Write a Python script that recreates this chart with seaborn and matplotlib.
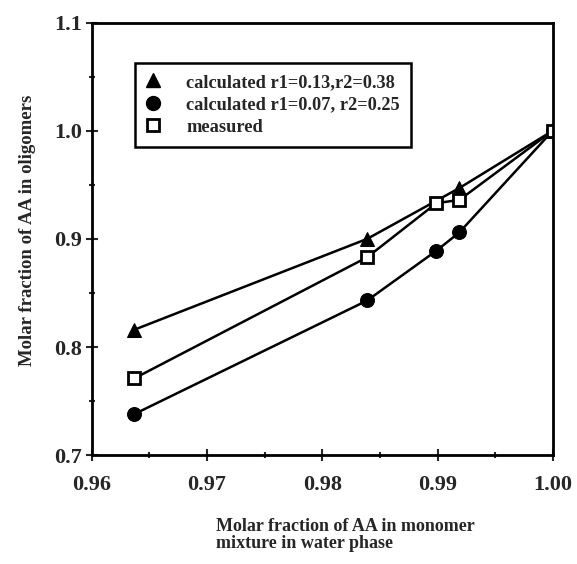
import matplotlib
matplotlib.use('Agg')
import matplotlib.pyplot as plt
from matplotlib.lines import Line2D
import pandas as pd
import seaborn as sns

# values
x_tri = [0.9637, 0.9839, 0.9919, 1.000]
y_tri = [0.816, 0.900, 0.947, 1.000]
x_circ = [0.9637, 0.9839, 0.9899, 0.9919, 1.000]
y_circ = [0.738, 0.843, 0.889, 0.906, 1.000]
x_sq = [0.9637, 0.9839, 0.9899, 0.9919, 1.000]
y_sq = [0.771, 0.883, 0.933, 0.936, 1.000]

labels = ['calculated r1=0.13,r2=0.38',
          'calculated r1=0.07, r2=0.25',
          'measured']
xticks = [0.96, 0.97, 0.98, 0.99, 1.00]
xtick_labels = ['0.96', '0.97', '0.98', '0.99', '1.00']
yticks = [0.7, 0.8, 0.9, 1.0, 1.1]
ytick_labels = ['0.7', '0.8', '0.9', '1.0', '1.1']

sns.set_style('ticks')
plt.rcParams['font.family'] = ['Liberation Serif', 'DejaVu Serif']
plt.rcParams['font.weight'] = 'bold'

fig = plt.figure(figsize=(5.77, 5.64), dpi=100)
ax = fig.add_axes([0.159, 0.193, 0.799, 0.767])

series = [
    (x_tri, y_tri, '^', dict(markersize=10, markerfacecolor='black')),
    (x_circ, y_circ, 'o', dict(markersize=10, markerfacecolor='black')),
    (x_sq, y_sq, 's', dict(markersize=9, markerfacecolor='white',
                           markeredgewidth=2)),
]
for xs, ys, mk, kw in series:
    df = pd.DataFrame({'x': xs, 'y': ys})
    sns.lineplot(data=df, x='x', y='y', ax=ax, color='black', lw=1.8,
                 marker=mk, markeredgecolor='black', **kw)

ax.set_xlim(0.96, 1.00)
ax.set_ylim(0.7, 1.1)
ax.set_xticks(xticks, xtick_labels)
ax.set_yticks(yticks, ytick_labels)
ax.set_xticks([0.965, 0.975, 0.985, 0.995], minor=True)
ax.set_yticks([0.75, 0.85, 0.95, 1.05], minor=True)
ax.tick_params(which='major', direction='inout', length=8, width=1.5,
               labelsize=16)
ax.tick_params(axis='x', which='major', pad=10)
ax.tick_params(axis='y', which='major', pad=3)
ax.tick_params(which='minor', direction='inout', length=5, width=1.5)
for sp in ax.spines.values():
    sp.set_linewidth(2)
    sp.set_color('black')

ax.set_xlabel('')
ax.set_ylabel('Molar fraction of AA in oligomers', fontsize=13.5,
              fontweight='bold')
ax.yaxis.set_label_coords(-0.12, 0.52)
fig.text(0.374, 0.022, 'Molar fraction of AA in monomer\nmixture in water phase',
         ha='left', va='bottom', fontsize=13, fontweight='bold',
         linespacing=1.0)

handles = [
    Line2D([], [], ls='none', marker='^', color='black', markersize=10),
    Line2D([], [], ls='none', marker='o', color='black', markersize=10),
    Line2D([], [], ls='none', marker='s', markerfacecolor='white',
           markeredgecolor='black', markeredgewidth=2, markersize=9),
]
leg = ax.legend(handles, labels, loc='upper left',
                bbox_to_anchor=(0.094, 0.907), fancybox=False,
                edgecolor='black', framealpha=1, fontsize=13.2,
                handlelength=0.8, handletextpad=1.4, borderpad=0.6,
                labelspacing=0.3, borderaxespad=0)
leg.get_frame().set_linewidth(1.8)

fig.savefig('out.png', dpi=100)
